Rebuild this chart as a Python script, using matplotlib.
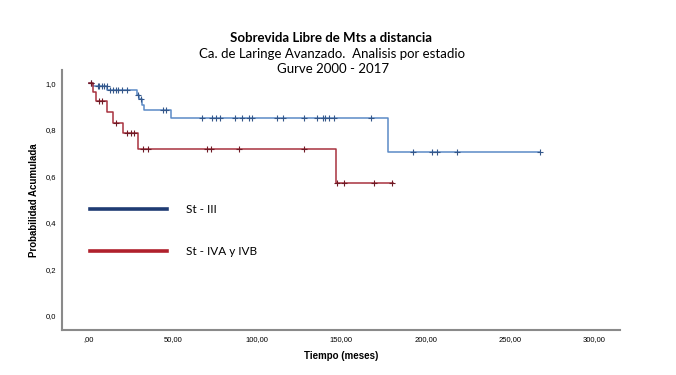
import matplotlib
matplotlib.use('Agg')
from matplotlib import pyplot as plt

# Curva Kaplan-Meier: tiempos de evento y supervivencia acumulada
st3_times = [0, 2.5, 11, 28.3, 29.5, 31.5, 33, 48.7, 177.5]
st3_surv = [1.0, 0.987, 0.97, 0.948, 0.93, 0.905, 0.884, 0.85, 0.705]
st3_end = 268
st3_censor = [1, 5.2, 6.1, 7.5, 9, 10.5, 12.5, 14.4, 15.9, 17.4, 19.4, 22.4,
              29, 31, 44, 45.8, 67.3, 73.3, 75.3, 77.6, 86.7, 90.7, 95, 96.7,
              112, 115.4, 127.8, 135.7, 139.3, 140.3, 142.6, 145.6, 167.4,
              192.7, 203.6, 207, 218.9, 268]

st4_times = [0, 2.6, 4.2, 10.5, 14.1, 20.2, 29.3, 146.6]
st4_surv = [1.0, 0.963, 0.923, 0.877, 0.831, 0.787, 0.717, 0.572]
st4_end = 180.5
st4_censor = [1, 6.1, 7.7, 16, 22.4, 24.8, 26.7, 31.9, 35.2, 70.3, 72.3,
              89.3, 127.7, 147.5, 151.7, 169.3, 180.2]

x_ticks = [0, 50, 100, 150, 200, 250, 300]
x_labels = [',00', '50,00', '100,00', '150,00', '200,00', '250,00', '300,00']
y_ticks = [0.0, 0.2, 0.4, 0.6, 0.8, 1.0]
y_labels = ['0,0', '0,2', '0,4', '0,6', '0,8', '1,0']


def surv_at(times, surv, t):
    val = surv[0]
    for ti, si in zip(times, surv):
        if ti <= t:
            val = si
    return val


def draw_km(ax, times, surv, end, censor, color, mcolor):
    xs = list(times) + [end]
    ys = list(surv) + [surv[-1]]
    ax.step(xs, ys, where='post', color=color, linewidth=1.1)
    cy = [surv_at(times, surv, c) for c in censor]
    ax.plot(censor, cy, linestyle='none', marker='+', markersize=4,
            markeredgewidth=0.8, color=mcolor)


fig = plt.figure(figsize=(6.76, 3.75), dpi=100)
ax = fig.add_axes([0.0917, 0.12, 0.8254, 0.693])

draw_km(ax, st3_times, st3_surv, st3_end, st3_censor, '#5b8ac6', '#34578a')
draw_km(ax, st4_times, st4_surv, st4_end, st4_censor, '#a8323e', '#6e1a25')

# leyenda (lineas gruesas sin marco)
h1, = ax.plot([], [], color='#1f3b73', linewidth=2.6)
h2, = ax.plot([], [], color='#b0202c', linewidth=2.6)
leg = ax.legend([h1, h2], ['St - III', 'St - IVA y IVB'], loc='upper left',
                bbox_to_anchor=(0.05, 0.484), frameon=False, borderpad=0,
                borderaxespad=0, handlelength=6.5, handletextpad=1.6,
                labelspacing=2.6, prop={'family': 'Lato', 'size': 8.5})

ax.set_xlim(-16, 315.5)
ax.set_ylim(-0.06, 1.056)
ax.set_xticks(x_ticks)
ax.set_xticklabels(x_labels, family='Liberation Sans', fontsize=5.5)
ax.set_yticks(y_ticks)
ax.set_yticklabels(y_labels, family='Liberation Sans', fontsize=5.5)
ax.tick_params(axis='x', length=0, pad=4)
ax.tick_params(axis='y', length=0, pad=4)
for s in ['top', 'right']:
    ax.spines[s].set_visible(False)
for s in ['left', 'bottom']:
    ax.spines[s].set_color('#8a8a8a')
    ax.spines[s].set_linewidth(1.5)

ax.set_xlabel('Tiempo (meses)', family='Liberation Sans', fontsize=7,
              fontweight='bold', labelpad=6)
ax.set_ylabel('Probabilidad Acumulada', family='Liberation Sans', fontsize=7,
              fontweight='bold', labelpad=5)

fig.text(0.489, 0.899, 'Sobrevida Libre de Mts a distancia', ha='center',
         va='center', family='Lato', fontsize=9.5, fontweight='bold')
fig.text(0.491, 0.857, 'Ca. de Laringe Avanzado.  Analisis por estadio',
         ha='center', va='center', family='Lato', fontsize=9.5)
fig.text(0.492, 0.815, 'Gurve 2000 - 2017', ha='center', va='center',
         family='Lato', fontsize=9.5)

plt.savefig('out.png', dpi=100)
